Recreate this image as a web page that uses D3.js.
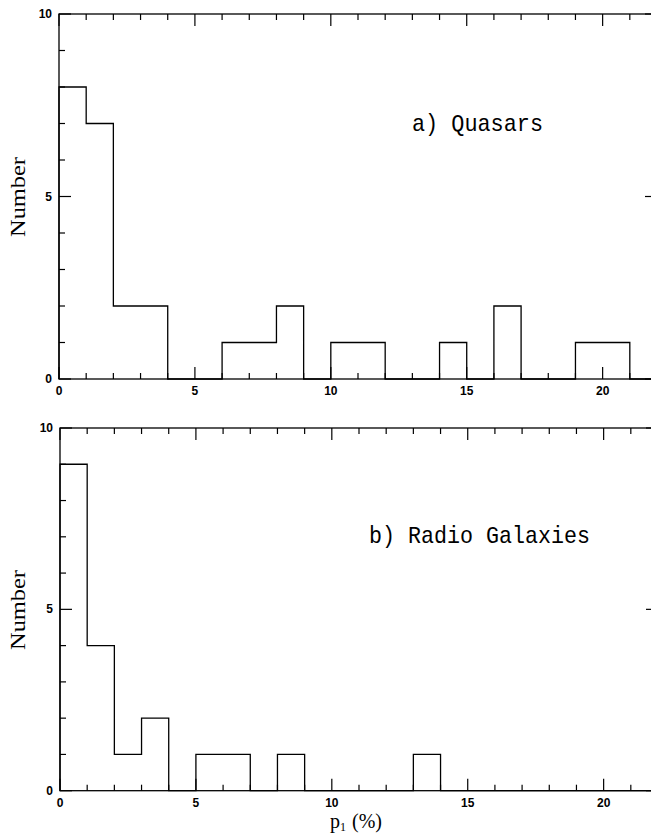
<!DOCTYPE html>
<html><head><meta charset="utf-8">
<script src="https://cdn.jsdelivr.net/npm/d3@7"></script>
<style>html,body{margin:0;padding:0;background:#fff;}svg{display:block;}</style>
</head><body>
<script>
// Data
const binStarts = [0,1,2,3,4,5,6,7,8,9,10,11,12,13,14,15,16,17,18,19,20,21];
const quasarCounts = [8,7,2,2,0,0,1,1,2,0,1,1,0,0,1,0,2,0,0,1,1,0];
const radioCounts  = [9,4,1,2,0,1,1,0,1,0,0,0,0,1,0,0,0,0,0,0,0,0];
const xMajorTicks = [0,5,10,15,20];
const yMajorTicks = [0,5,10];
const panelLabels = ["a) Quasars","b) Radio Galaxies"];

const W = 651, H = 840;
const svg = d3.select("body").append("svg").attr("width", W).attr("height", H);

const panels = [
  {counts: quasarCounts, x0: 59, x1: 657, yTop: 14, yBot: 379, label: panelLabels[0], lx: 412, ly: 131, lw: 131, ny: 197, xlb: 395},
  {counts: radioCounts,  x0: 60, x1: 658, yTop: 428, yBot: 790.7, label: panelLabels[1], lx: 369, ly: 543, lw: 221, ny: 610, xlb: 807}
];

panels.forEach(p => {
  const x = d3.scaleLinear().domain([0,22]).range([p.x0, p.x1]);
  const y = d3.scaleLinear().domain([0,10]).range([p.yBot, p.yTop]);
  const g = svg.append("g");

  g.append("rect").attr("x", p.x0).attr("y", p.yTop)
    .attr("width", p.x1 - p.x0).attr("height", p.yBot - p.yTop)
    .attr("fill", "none").attr("stroke", "#000").attr("stroke-width", 1.3);

  d3.range(0, 23, 1).forEach(v => {
    const len = (v % 5 === 0) ? 12 : 6;
    g.append("line").attr("x1", x(v)).attr("x2", x(v)).attr("y1", p.yBot).attr("y2", p.yBot - len)
      .attr("stroke", "#000").attr("stroke-width", 1.2);
    g.append("line").attr("x1", x(v)).attr("x2", x(v)).attr("y1", p.yTop).attr("y2", p.yTop + len)
      .attr("stroke", "#000").attr("stroke-width", 1.2);
  });
  d3.range(0, 11, 1).forEach(v => {
    const len = (v % 5 === 0) ? 12 : 6;
    g.append("line").attr("x1", p.x0).attr("x2", p.x0 + len).attr("y1", y(v)).attr("y2", y(v))
      .attr("stroke", "#000").attr("stroke-width", 1.2);
    g.append("line").attr("x1", p.x1).attr("x2", p.x1 - len).attr("y1", y(v)).attr("y2", y(v))
      .attr("stroke", "#000").attr("stroke-width", 1.2);
  });

  xMajorTicks.forEach(v => {
    g.append("text").attr("x", x(v)).attr("y", p.xlb).attr("text-anchor", "middle")
      .attr("font-family", "Liberation Sans, Arial, sans-serif").attr("font-weight", "bold")
      .attr("font-size", 12).text(v);
  });
  yMajorTicks.forEach(v => {
    g.append("text").attr("x", p.x0 - 7).attr("y", y(v) + 4).attr("text-anchor", "end")
      .attr("font-family", "Liberation Sans, Arial, sans-serif").attr("font-weight", "bold")
      .attr("font-size", 12).text(v);
  });

  const pts = [[x(0), y(0)]];
  binStarts.forEach((b, i) => {
    pts.push([x(b), y(p.counts[i])]);
    pts.push([x(b + 1), y(p.counts[i])]);
  });
  pts.push([x(22), y(0)]);
  g.append("path").attr("d", d3.line()(pts))
    .attr("fill", "none").attr("stroke", "#000").attr("stroke-width", 1.3);

  g.append("text").attr("x", p.lx).attr("y", p.ly)
    .attr("font-family", "Liberation Mono, Courier New, monospace").attr("font-size", 24)
    .attr("textLength", p.lw).attr("lengthAdjust", "spacingAndGlyphs")
    .text(p.label);

  g.append("text").attr("transform", `translate(25,${p.ny}) rotate(-90)`)
    .attr("text-anchor", "middle")
    .attr("font-family", "Liberation Serif, Times New Roman, serif").attr("font-size", 21)
    .attr("textLength", 80).attr("lengthAdjust", "spacingAndGlyphs")
    .text("Number");
});

const xl = svg.append("text").attr("x", 330).attr("y", 828)
  .attr("font-family", "Liberation Serif, Times New Roman, serif").attr("font-size", 20);
xl.append("tspan").text("p");
xl.append("tspan").attr("font-size", 12).attr("dy", 3).text("1");
xl.append("tspan").attr("dy", -3).attr("dx", 6).text("(%)");
</script>
</body></html>
